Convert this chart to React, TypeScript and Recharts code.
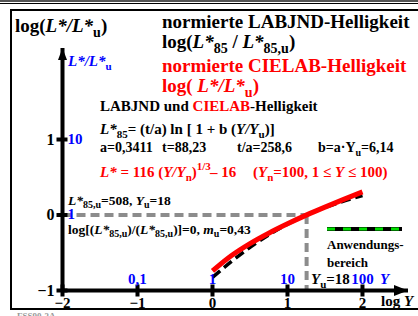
import { Line, LineChart, ReferenceDot, ReferenceLine, XAxis, YAxis } from "recharts";

// log Y (Y = 1 ... 100) and the two normalized lightness curves, log(L*/L*u)
const logY = [0, 0.25, 0.5, 0.75, 1, 1.25, 1.5, 1.75, 2];
const cielab = [-0.741, -0.54, -0.379, -0.241, -0.117, -0.002, 0.105, 0.207, 0.306];
const labjnd = [-0.826, -0.618, -0.429, -0.264, -0.122, -0.002, 0.099, 0.184, 0.258];

const xTicks = [-2, -1, 0, 1, 2];
const xTickLabels = ["−2", "−1", "0", "1", "2"];
const xValueLabels = ["", "0,1", "1", "10", "100"];
const yTicks = [-1, 0, 1];
const yTickLabels = ["−1", "0", "1"];
const yValueLabels = ["", "1", "10"];
const logYu = 1.255; // log 18

const data = logY.map((x, i) => ({ x, cielab: cielab[i], labjnd: labjnd[i] }));

const FONT = "'Liberation Serif', 'Times New Roman', serif";
const RED = "#ff0000";
const BLUE = "#0000ff";
const GREEN = "#00e000";

function XTick(p: any) {
  const i = xTicks.indexOf(p.payload.value);
  return (
    <g fontFamily={FONT} fontWeight="bold" fontSize={15}>
      <rect x={p.x - 2} y={p.y - 6} width={4} height={12} fill="#000" />
      <text x={p.x} y={p.y + 17} textAnchor="middle" fill="#000">
        {xTickLabels[i]}
      </text>
      <text x={p.x} y={p.y - 7} textAnchor="middle" fill={BLUE}>
        {xValueLabels[i]}
      </text>
    </g>
  );
}

function YTick(p: any) {
  const i = yTicks.indexOf(p.payload.value);
  return (
    <g fontFamily={FONT} fontWeight="bold" fontSize={16}>
      <rect x={p.x - 6} y={p.y - 2} width={11} height={4} fill="#000" />
      <text x={p.x - 8} y={p.y + 5} textAnchor="end" fill="#000">
        {yTickLabels[i]}
      </text>
      <text x={p.x + 5} y={p.y + 4} fill={BLUE} fontSize={15}>
        {yValueLabels[i]}
      </text>
    </g>
  );
}

function Texts() {
  return (
    <svg
      width={418}
      height={316}
      style={{ position: "absolute", left: 0, top: 0, pointerEvents: "none" }}
      fontFamily={FONT}
      fontWeight="bold"
    >
      {/* frame */}
      <line x1={0} y1={1} x2={418} y2={1} stroke="#555" strokeWidth={2} />
      <line x1={0} y1={3.5} x2={418} y2={3.5} stroke="#000" strokeWidth={1} />
      <rect x={11} y={10} width={420} height={299} fill="none" stroke="#000" strokeWidth={2} />
      <text x={17} y={319} fontSize={9} fill="#999">FSS90-3A</text>

      <text x={15} y={32} fontSize={19}>
        log(<tspan fontStyle="italic">L*/L*</tspan>
        <tspan dy={5} fontSize={14}>u</tspan>
        <tspan dy={-5}>)</tspan>
      </text>
      <text x={162} y={28} fontSize={19}>normierte LABJND-Helligkeit</text>
      <text x={162} y={48} fontSize={19}>
        log(<tspan fontStyle="italic">L*</tspan>
        <tspan dy={5} fontSize={14}>85</tspan>
        <tspan dy={-5}> / </tspan>
        <tspan fontStyle="italic">L*</tspan>
        <tspan dy={5} fontSize={14}>85,u</tspan>
        <tspan dy={-5}>)</tspan>
      </text>
      <text x={162} y={72} fontSize={19} fill={RED}>normierte CIELAB-Helligkeit</text>
      <text x={162} y={92} fontSize={19} fill={RED}>
        log( <tspan fontStyle="italic">L*/L*</tspan>
        <tspan dy={5} fontSize={14}>u</tspan>
        <tspan dy={-5}>)</tspan>
      </text>

      <text x={68} y={66} fontSize={15} fill={BLUE} fontStyle="italic">
        L*/L*<tspan dy={4} fontSize={11} fontStyle="normal">u</tspan>
      </text>

      <text x={100} y={111} fontSize={15}>
        LABJND und <tspan fill={RED}>CIELAB</tspan>-Helligkeit
      </text>
      <text x={100} y={134} fontSize={15}>
        <tspan fontStyle="italic">L*</tspan>
        <tspan dy={4} fontSize={11}>85</tspan>
        <tspan dy={-4}>= (t/a) ln [ 1 + b (</tspan>
        <tspan fontStyle="italic">Y/Y</tspan>
        <tspan dy={4} fontSize={11}>u</tspan>
        <tspan dy={-4}>)]</tspan>
      </text>
      <text y={152} fontSize={14}>
        <tspan x={100}>a=0,3411</tspan>
        <tspan x={162}>t=88,23</tspan>
        <tspan x={237}>t/a=258,6</tspan>
        <tspan x={318}>b=a·Y</tspan>
        <tspan dy={4} fontSize={10}>u</tspan>
        <tspan dy={-4}>=6,14</tspan>
      </text>
      <text y={177} fontSize={15} fill={RED}>
        <tspan x={100} fontStyle="italic">L*</tspan>
        <tspan> = 116 (</tspan>
        <tspan fontStyle="italic">Y/Y</tspan>
        <tspan dy={4} fontSize={11}>n</tspan>
        <tspan dy={-4}>)</tspan>
        <tspan dy={-7} fontSize={11}>1/3</tspan>
        <tspan x={210} dy={7}>– 16</tspan>
        <tspan x={253}>(</tspan>
        <tspan fontStyle="italic">Y</tspan>
        <tspan dy={4} fontSize={11}>n</tspan>
        <tspan dy={-4}>=100, 1 ≤ </tspan>
        <tspan fontStyle="italic">Y</tspan>
        <tspan> ≤ 100)</tspan>
      </text>
      <text x={68} y={205} fontSize={13.5}>
        <tspan fontStyle="italic">L*</tspan>
        <tspan dy={3} fontSize={10}>85,u</tspan>
        <tspan dy={-3}>=508, </tspan>
        <tspan fontStyle="italic">Y</tspan>
        <tspan dy={3} fontSize={10}>u</tspan>
        <tspan dy={-3}>=18</tspan>
      </text>
      <text x={68} y={234} fontSize={13.5}>
        log[(<tspan fontStyle="italic">L*</tspan>
        <tspan dy={3} fontSize={10}>85,u</tspan>
        <tspan dy={-3}>)/(</tspan>
        <tspan fontStyle="italic">L*</tspan>
        <tspan dy={3} fontSize={10}>85,u</tspan>
        <tspan dy={-3}>)]=0, </tspan>
        <tspan fontStyle="italic">m</tspan>
        <tspan dy={3} fontSize={10}>u</tspan>
        <tspan dy={-3}>=0,43</tspan>
      </text>

      {/* legend */}
      <line x1={327} y1={229} x2={402} y2={229} stroke="#000" strokeWidth={4} />
      <line x1={327} y1={229} x2={402} y2={229} stroke={GREEN} strokeWidth={3} strokeDasharray="8 8" />
      <text x={327} y={249} fontSize={13}>Anwendungs-</text>
      <text x={327} y={267} fontSize={13}>bereich</text>

      <text x={311} y={284} fontSize={15}>
        <tspan fontStyle="italic">Y</tspan>
        <tspan dy={4} fontSize={11}>u</tspan>
        <tspan dy={-4}>=18</tspan>
      </text>
      <text x={380} y={284} fontSize={15} fill={BLUE} fontStyle="italic">Y</text>
      <text x={381} y={306} fontSize={15}>
        log <tspan fontStyle="italic">Y</tspan>
      </text>
    </svg>
  );
}

export default function App() {
  return (
    <div style={{ position: "absolute", left: 0, top: 0, width: 418, height: 316, background: "#fff" }}>
      <LineChart width={418} height={316} data={data} margin={{ top: 48, right: 10, bottom: 0, left: 0 }}>
        <XAxis
          type="number"
          dataKey="x"
          domain={[-2, 2.607]}
          ticks={xTicks}
          interval={0}
          allowDataOverflow
          height={25.5}
          axisLine={{ stroke: "#000", strokeWidth: 4 }}
          tickLine={false}
          tickSize={0}
          tickMargin={0}
          tick={XTick}
        />
        <YAxis
          type="number"
          domain={[-1, 2.212]}
          ticks={yTicks}
          interval={0}
          allowDataOverflow
          width={62.5}
          axisLine={{ stroke: "#000", strokeWidth: 4 }}
          tickLine={false}
          tickSize={0}
          tickMargin={0}
          tick={YTick}
        />
        <ReferenceLine
          segment={[{ x: -2, y: 0 }, { x: logYu, y: 0 }]}
          stroke="#8c8c8c"
          strokeWidth={4}
          strokeDasharray="9 5"
        />
        <ReferenceLine
          segment={[{ x: logYu, y: 0 }, { x: logYu, y: -1 }]}
          stroke="#8c8c8c"
          strokeWidth={4}
          strokeDasharray="9 5"
        />
        <ReferenceLine
          segment={[{ x: logY[0], y: -1 }, { x: logY[logY.length - 1], y: -1 }]}
          stroke={GREEN}
          strokeWidth={3}
          strokeDasharray="8 8"
        />
        <ReferenceLine
          segment={[{ x: -2, y: cielab[0] }, { x: -2, y: cielab[cielab.length - 1] }]}
          stroke={GREEN}
          strokeWidth={3}
          strokeDasharray="6 6"
        />
        <ReferenceDot
          x={2.607}
          y={-1}
          ifOverflow="visible"
          shape={(p: any) => <path d={`M${p.cx},${p.cy} l-14,-5.5 l0,11 z`} fill="#000" />}
        />
        <ReferenceDot
          x={-2}
          y={2.212}
          ifOverflow="visible"
          shape={(p: any) => <path d={`M${p.cx},${p.cy} l-4.5,12 l9,0 z`} fill="#000" />}
        />
        <Line
          type="monotone"
          dataKey="labjnd"
          stroke="#000"
          strokeWidth={3.5}
          strokeDasharray="10 5"
          dot={false}
          isAnimationActive={false}
        />
        <Line
          type="monotone"
          dataKey="cielab"
          stroke={RED}
          strokeWidth={5}
          dot={false}
          isAnimationActive={false}
        />
      </LineChart>
      <Texts />
    </div>
  );
}
